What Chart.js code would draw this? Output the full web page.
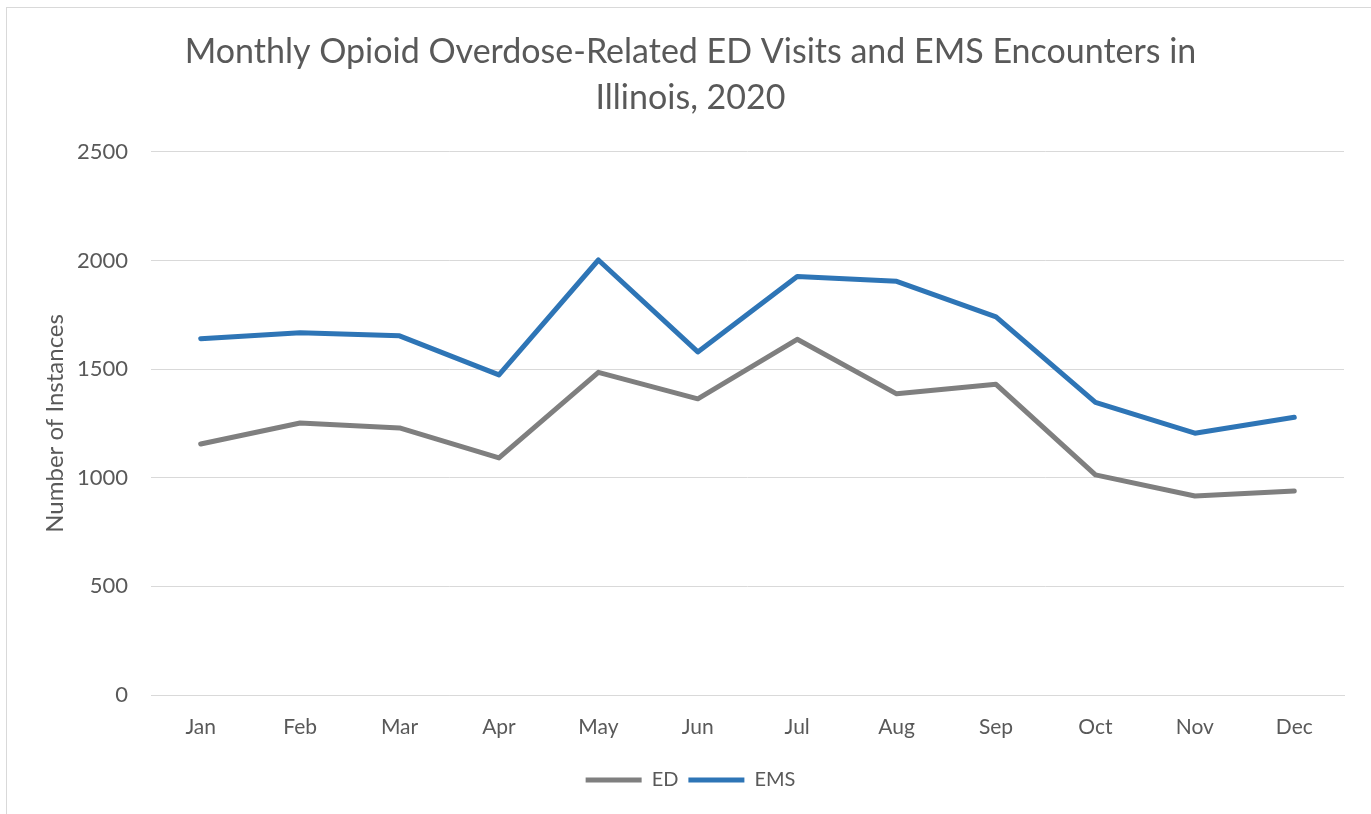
<!DOCTYPE html>
<html>
<head>
<meta charset="utf-8">
<script src="https://cdn.jsdelivr.net/npm/chart.js@4"></script>
<style>
  html, body { margin: 0; padding: 0; background: #ffffff; overflow: hidden; }
  #wrap { position: relative; width: 1371px; height: 814px; }
  #c { position: absolute; left: 0; top: 0; }
  #frame { position: absolute; left: 6px; top: 7px; width: 1400px; height: 900px;
           border: 1px solid #d9d9d9; pointer-events: none; box-sizing: border-box; }
</style>
</head>
<body>
<div id="wrap">
  <canvas id="c" width="1371" height="814"></canvas>
  <div id="frame"></div>
</div>
<script>
const months = ["Jan","Feb","Mar","Apr","May","Jun","Jul","Aug","Sep","Oct","Nov","Dec"];
const edVisits = [1155, 1252, 1229, 1091, 1485, 1363, 1637, 1386, 1430, 1013, 916, 939];
const emsEncounters = [1640, 1667, 1653, 1473, 2002, 1579, 1926, 1904, 1740, 1347, 1205, 1278];
const yTicks = [0, 500, 1000, 1500, 2000, 2500];
const titleLines = ["Monthly Opioid Overdose-Related ED Visits and EMS Encounters in", "Illinois, 2020"];

const FONT = "Lato, 'Open Sans', sans-serif";
const TEXT = "#595959";
const GRID = "#d9d9d9";

new Chart(document.getElementById("c"), {
  type: "line",
  data: {
    labels: months,
    datasets: [
      { label: "ED", data: edVisits, borderColor: "#7f7f7f", backgroundColor: "#7f7f7f",
        borderWidth: 5, pointRadius: 0, pointHoverRadius: 0, tension: 0,
        borderCapStyle: "round", borderJoinStyle: "round", pointStyle: "line" },
      { label: "EMS", data: emsEncounters, borderColor: "#2e75b6", backgroundColor: "#2e75b6",
        borderWidth: 5, pointRadius: 0, pointHoverRadius: 0, tension: 0,
        borderCapStyle: "round", borderJoinStyle: "round", pointStyle: "line" }
    ]
  },
  options: {
    responsive: false,
    animation: false,
    devicePixelRatio: 1,
    layout: { padding: { left: 37, right: 27, top: 0, bottom: 14 } },
    plugins: {
      tooltip: { enabled: false },
      title: {
        display: true,
        text: titleLines,
        color: TEXT,
        font: { family: FONT, size: 34, weight: "normal", lineHeight: 1.35 },
        padding: { top: 29, bottom: 31 }
      },
      legend: {
        position: "bottom",
        labels: {
          usePointStyle: true,
          pointStyleWidth: 56,
          boxHeight: 20,
          padding: 10,
          color: TEXT,
          font: { family: FONT, size: 20 }
        }
      }
    },
    scales: {
      x: {
        offset: true,
        grid: { display: false, drawTicks: false },
        border: { display: true, color: GRID, width: 1 },
        ticks: { color: TEXT, font: { family: FONT, size: 21 }, padding: 20, maxRotation: 0 },
        afterFit: (s) => { s.height = 65; }
      },
      y: {
        min: 0, max: 2500,
        afterBuildTicks: (s) => { s.ticks = yTicks.map(v => ({ value: v })); },
        grid: { color: GRID, lineWidth: 1, drawTicks: false },
        border: { display: false },
        ticks: { color: TEXT, font: { family: FONT, size: 22 }, padding: 23,
                 callback: (v) => String(v) },
        title: {
          display: true, text: "Number of Instances", color: TEXT,
          font: { family: FONT, size: 24 }, padding: { top: 4, bottom: 0 }
        },
        afterFit: (s) => { s.width = 114; }
      }
    }
  }
});
</script>
</body>
</html>
